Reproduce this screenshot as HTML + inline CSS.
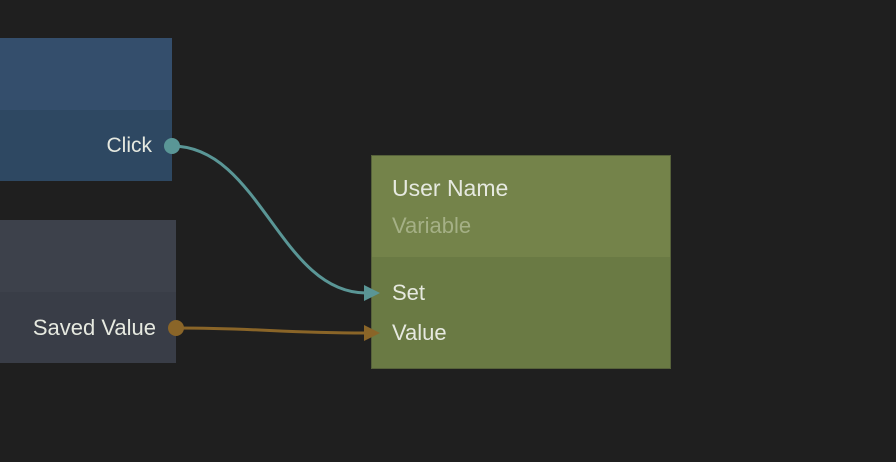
<!DOCTYPE html>
<html><head><style>
html,body{margin:0;padding:0;background:#1f1f1f;width:896px;height:462px;overflow:hidden;font-family:"Liberation Sans",sans-serif;}
.a{position:absolute;}
.t{position:absolute;color:#e6e9e0;font-size:21px;line-height:24px;white-space:nowrap;}
</style></head><body>
<div class="a" style="left:0;top:38px;width:172px;height:72px;background:#344e6c"></div>
<div class="a" style="left:0;top:110px;width:172px;height:71px;background:#2e4862"></div>
<div class="t" style="right:744px;top:134px;">Click</div>
<div class="a" style="left:0;top:220px;width:176px;height:72px;background:#3d414b"></div>
<div class="a" style="left:0;top:292px;width:176px;height:71px;background:#393d47"></div>
<div class="t" style="right:740px;top:316px;font-size:22px;">Saved Value</div>
<div class="a" style="left:371px;top:155px;width:298px;height:212px;border:1px solid #56613a;background:#6a7a44"></div>
<div class="a" style="left:372px;top:156px;width:298px;height:101px;background:#74834a"></div>
<div class="t" style="left:392px;top:176px;font-size:23px;">User Name</div>
<div class="t" style="left:392px;top:214px;font-size:22px;color:#a5b086;">Variable</div>
<div class="t" style="left:392px;top:281px;font-size:22px;">Set</div>
<div class="t" style="left:392px;top:321px;font-size:22px;">Value</div>
<svg class="a" style="left:0;top:0" width="896" height="462">
<path d="M172 146 C260 146 280 293 366 293" fill="none" stroke="#5a9696" stroke-width="3"/>
<polygon points="364,285 380,293 364,301" fill="#5a9696"/>
<circle cx="172" cy="146" r="8" fill="#5a9696"/>
<path d="M176 328 C260 328 280 333 366 333" fill="none" stroke="#8a6528" stroke-width="3"/>
<polygon points="364,325 380,333 364,341" fill="#8a6528"/>
<circle cx="176" cy="328" r="8" fill="#8a6528"/>
</svg>
</body></html>
